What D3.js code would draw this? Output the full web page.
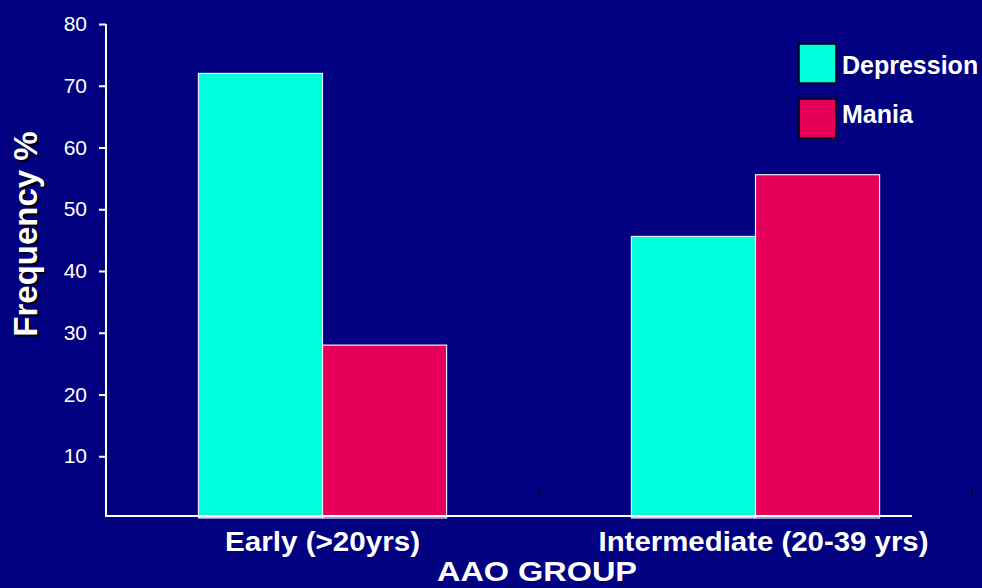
<!DOCTYPE html>
<html><head><meta charset="utf-8">
<script src="https://cdn.jsdelivr.net/npm/d3@7"></script>
<style>html,body{margin:0;padding:0;background:#000080;}svg{display:block;}</style>
</head><body>
<script>
const categories = ["Early (>20yrs)", "Intermediate (20-39 yrs)"];
const seriesNames = ["Depression", "Mania"];
const depression = [72, 45.6];
const mania = [28, 55.6];
const yTicks = [10, 20, 30, 40, 50, 60, 70, 80];
const colors = ["#00FFDC", "#E6005A"];

const W = 982, H = 588;
const svg = d3.select("body").append("svg").attr("width", W).attr("height", H);
svg.append("rect").attr("width", W).attr("height", H).attr("fill", "#000080");

const x0 = d3.scaleBand().domain(categories).range([106, 972]).paddingInner(0).paddingOuter(0);
const x1 = d3.scaleBand().domain(seriesNames).range([0, x0.bandwidth()]).paddingInner(0).paddingOuter(0.745);
const y = d3.scaleLinear().domain([0, 80]).range([518, 24]);

const data = categories.map((c, i) => ({cat: c, vals: [depression[i], mania[i]]}));

// bars
const g = svg.append("g");
data.forEach(d => {
  d.vals.forEach((v, j) => {
    g.append("rect")
      .attr("x", x0(d.cat) + x1(seriesNames[j]))
      .attr("y", y(v))
      .attr("width", x1.bandwidth())
      .attr("height", y(0) - y(v))
      .attr("fill", colors[j])
      .attr("stroke", "#e8e8ff")
      .attr("stroke-width", 1.2);
  });
});

// y axis
const yAxis = d3.axisLeft(y).tickValues(yTicks).tickSize(7).tickPadding(12).tickSizeOuter(0);
const ya = svg.append("g").attr("transform", "translate(106,0)").call(yAxis);
ya.select(".domain").remove();
ya.append("line").attr("x1", 0).attr("x2", 0).attr("y1", y(80)).attr("y2", 517).attr("stroke", "#fff").attr("stroke-width", 2);
ya.selectAll(".tick line").attr("stroke", "#fff").attr("stroke-width", 2);
ya.selectAll(".tick text").attr("fill", "#fff").style("font-family", "Liberation Sans, Arial, sans-serif").style("font-size", "21px");

// x axis baseline
svg.append("line").attr("x1", 105).attr("x2", 912).attr("y1", 516).attr("y2", 516).attr("stroke", "#fff").attr("stroke-width", 2);
// small dark category boundary marks
svg.append("line").attr("x1", x0(categories[1])).attr("x2", x0(categories[1])).attr("y1", 490).attr("y2", 497).attr("stroke", "#000").attr("stroke-width", 1.5);
svg.append("line").attr("x1", x0.range()[1]).attr("x2", x0.range()[1]).attr("y1", 489).attr("y2", 497).attr("stroke", "#000").attr("stroke-width", 1.5);

// category labels (condensed bold)
const labelWidths = [195, 330];
const labelShift = [0, 8];
svg.append("g").selectAll("text").data(categories).join("text")
  .attr("x", (d, i) => x0(d) + x0.bandwidth() / 2 + labelShift[i])
  .attr("y", 551)
  .attr("text-anchor", "middle")
  .attr("fill", "#fff")
  .attr("textLength", (d, i) => labelWidths[i])
  .attr("lengthAdjust", "spacingAndGlyphs")
  .style("font-family", "Liberation Sans, Arial, sans-serif")
  .style("font-weight", "bold")
  .style("font-size", "28px")
  .text(d => d);

// x title
svg.append("text").attr("x", 537).attr("y", 581).attr("text-anchor", "middle").attr("fill", "#fff")
  .attr("textLength", 200).attr("lengthAdjust", "spacingAndGlyphs")
  .style("font-family", "Liberation Sans, Arial, sans-serif")
  .style("font-weight", "bold").style("font-size", "28px").text("AAO GROUP");

// y title with shadow
[["#000", 2, 2], ["#fff", 0, 0]].forEach(([c, dx, dy]) => {
  svg.append("text").attr("transform", `translate(${37 + dx},${234 + dy}) rotate(-90)`)
    .attr("text-anchor", "middle").attr("fill", c)
    .style("font-family", "Liberation Sans, Arial, sans-serif")
    .style("font-weight", "bold").style("font-size", "33px").text("Frequency %");
});

// legend
const lg = svg.append("g");
seriesNames.forEach((s, i) => {
  lg.append("rect").attr("x", 799).attr("y", 44 + i * 55).attr("width", 37).attr("height", 39)
    .attr("fill", colors[i]).attr("stroke", "#000").attr("stroke-width", 1.5);
  lg.append("text").attr("x", 842).attr("y", 74 + i * 49).attr("fill", "#fff")
    .style("font-family", "Liberation Sans, Arial, sans-serif")
    .style("font-weight", "bold").style("font-size", "25px").text(s);
});
</script>
</body></html>
